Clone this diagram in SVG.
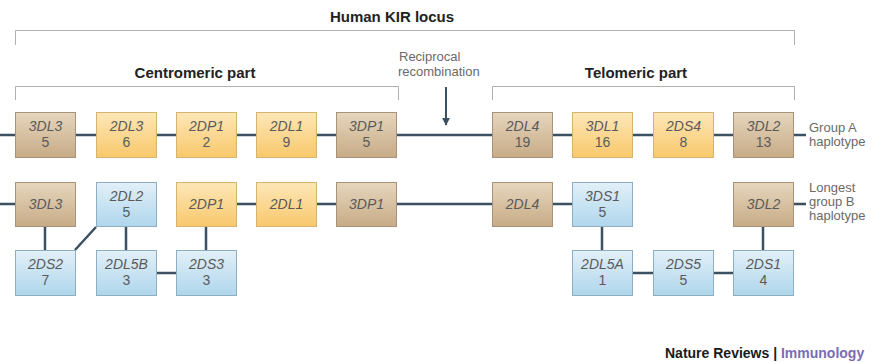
<svg xmlns="http://www.w3.org/2000/svg" width="874" height="363" viewBox="0 0 874 363">
<defs>
<linearGradient id="gTan" x1="0" y1="0" x2="0" y2="1"><stop offset="0" stop-color="#e6d6bd"/><stop offset="1" stop-color="#c7ab86"/></linearGradient>
<linearGradient id="gYel" x1="0" y1="0" x2="0" y2="1"><stop offset="0" stop-color="#fde7b8"/><stop offset="1" stop-color="#f8c86c"/></linearGradient>
<linearGradient id="gBlu" x1="0" y1="0" x2="0" y2="1"><stop offset="0" stop-color="#e2f0f8"/><stop offset="1" stop-color="#afd6ec"/></linearGradient>
<marker id="ah" viewBox="0 0 10 10" refX="9" refY="5" markerWidth="4" markerHeight="4" orient="auto"><path d="M0,0 L10,5 L0,10 z" fill="#3b5060"/></marker>
</defs>
<style>
.tan{fill:url(#gTan);stroke:#a8927a;stroke-width:1}
.yel{fill:url(#gYel);stroke:#d6b36e;stroke-width:1}
.blu{fill:url(#gBlu);stroke:#8eaec2;stroke-width:1}
.nm{font-family:"Liberation Sans",Arial,sans-serif;font-size:14px;font-style:italic;fill:#5a5a5a;text-anchor:middle}
.nu{font-family:"Liberation Sans",Arial,sans-serif;font-size:14px;fill:#5a5a5a;text-anchor:middle}
.ttl{font-family:"Liberation Sans",Arial,sans-serif;font-size:15px;font-weight:bold;fill:#222;text-anchor:middle}
.lbl{font-family:"Liberation Sans",Arial,sans-serif;font-size:13px;fill:#6a6a6a}
.br{fill:none;stroke:#b0b0b0;stroke-width:1}
.cn{fill:none;stroke:#3b5060;stroke-width:2.5}
</style>
<rect width="874" height="363" fill="#fff"/>
<g id="brackets">
<path class="br" d="M15.5,45 V30.5 H794.5 V45"/>
<path class="br" d="M15.5,100 V86.5 H398.5 V100"/>
<path class="br" d="M492.5,100 V86.5 H794.5 V100"/>
</g>
<g id="titles">
<text class="ttl" x="392" y="22">Human KIR locus</text>
<text class="ttl" x="195" y="78">Centromeric part</text>
<text class="ttl" x="636" y="78">Telomeric part</text>
<text class="lbl" x="399" y="61" font-size="14px">Reciprocal</text>
<text class="lbl" x="398" y="76" font-size="14px">recombination</text>
<text class="lbl" x="809" y="132">Group A</text>
<text class="lbl" x="809" y="146">haplotype</text>
<text class="lbl" x="809" y="192">Longest</text>
<text class="lbl" x="809" y="206">group B</text>
<text class="lbl" x="809" y="220">haplotype</text>
<text x="665" y="358" font-family="'Liberation Sans',Arial,sans-serif" font-size="14px" font-weight="bold" fill="#1a1a1a">Nature Reviews <tspan fill="#222">|</tspan> <tspan fill="#7a6bb5">Immunology</tspan></text>
</g>
<g id="connectors">
<path class="cn" d="M0,135 H15 M75,135 H96 M156,135 H176 M236,135 H256 M316,135 H336 M396,135 H492 M552,135 H572 M633,135 H653 M713,135 H733 M794,135 H806"/>
<path class="cn" d="M0,204 H15 M236,204 H256 M316,204 H336 M396,204 H492 M552,204 H572 M794,204 H806"/>
<path class="cn" d="M45,227 V250 M75,250 L96,227 M126,227 V250 M206,227 V250 M156,273 H176 M602,227 V250 M632,273 H653 M713,273 H733 M763,227 V250"/>
<path d="M446,87 V125" fill="none" stroke="#3b5060" stroke-width="2" marker-end="url(#ah)"/>
</g>
<g id="rowA">
<g id="a-3DL3"><rect class="tan" x="15.5" y="112.5" width="60" height="45"/><text class="nm" x="45.5" y="131">3DL3</text><text class="nu" x="45.5" y="147">5</text></g>
<g id="a-2DL3"><rect class="yel" x="96.5" y="112.5" width="60" height="45"/><text class="nm" x="126.5" y="131">2DL3</text><text class="nu" x="126.5" y="147">6</text></g>
<g id="a-2DP1"><rect class="yel" x="176.5" y="112.5" width="60" height="45"/><text class="nm" x="206.5" y="131">2DP1</text><text class="nu" x="206.5" y="147">2</text></g>
<g id="a-2DL1"><rect class="yel" x="256.5" y="112.5" width="60" height="45"/><text class="nm" x="286.5" y="131">2DL1</text><text class="nu" x="286.5" y="147">9</text></g>
<g id="a-3DP1"><rect class="tan" x="336.5" y="112.5" width="60" height="45"/><text class="nm" x="366.5" y="131">3DP1</text><text class="nu" x="366.5" y="147">5</text></g>
<g id="a-2DL4"><rect class="tan" x="492.5" y="112.5" width="60" height="45"/><text class="nm" x="522.5" y="131">2DL4</text><text class="nu" x="522.5" y="147">19</text></g>
<g id="a-3DL1"><rect class="yel" x="572.5" y="112.5" width="60" height="45"/><text class="nm" x="602.5" y="131">3DL1</text><text class="nu" x="602.5" y="147">16</text></g>
<g id="a-2DS4"><rect class="yel" x="653.5" y="112.5" width="60" height="45"/><text class="nm" x="683.5" y="131">2DS4</text><text class="nu" x="683.5" y="147">8</text></g>
<g id="a-3DL2"><rect class="tan" x="733.5" y="112.5" width="60" height="45"/><text class="nm" x="763.5" y="131">3DL2</text><text class="nu" x="763.5" y="147">13</text></g>
</g>
<g id="rowB">
<g id="b-3DL3"><rect class="tan" x="15.5" y="182.5" width="60" height="44"/><text class="nm" x="45.5" y="209">3DL3</text></g>
<g id="b-2DL2"><rect class="blu" x="96.5" y="182.5" width="60" height="44"/><text class="nm" x="126.5" y="201">2DL2</text><text class="nu" x="126.5" y="217">5</text></g>
<g id="b-2DP1"><rect class="yel" x="176.5" y="182.5" width="60" height="44"/><text class="nm" x="206.5" y="209">2DP1</text></g>
<g id="b-2DL1"><rect class="yel" x="256.5" y="182.5" width="60" height="44"/><text class="nm" x="286.5" y="209">2DL1</text></g>
<g id="b-3DP1"><rect class="tan" x="336.5" y="182.5" width="60" height="44"/><text class="nm" x="366.5" y="209">3DP1</text></g>
<g id="b-2DL4"><rect class="tan" x="492.5" y="182.5" width="60" height="44"/><text class="nm" x="522.5" y="209">2DL4</text></g>
<g id="b-3DS1"><rect class="blu" x="572.5" y="182.5" width="60" height="44"/><text class="nm" x="602.5" y="201">3DS1</text><text class="nu" x="602.5" y="217">5</text></g>
<g id="b-3DL2"><rect class="tan" x="733.5" y="182.5" width="60" height="44"/><text class="nm" x="763.5" y="209">3DL2</text></g>
<g id="b-2DS2"><rect class="blu" x="15.5" y="250.5" width="60" height="45"/><text class="nm" x="45.5" y="269">2DS2</text><text class="nu" x="45.5" y="285">7</text></g>
<g id="b-2DL5B"><rect class="blu" x="96.5" y="250.5" width="60" height="45"/><text class="nm" x="126.5" y="269">2DL5B</text><text class="nu" x="126.5" y="285">3</text></g>
<g id="b-2DS3"><rect class="blu" x="176.5" y="250.5" width="60" height="45"/><text class="nm" x="206.5" y="269">2DS3</text><text class="nu" x="206.5" y="285">3</text></g>
<g id="b-2DL5A"><rect class="blu" x="572.5" y="250.5" width="60" height="45"/><text class="nm" x="602.5" y="269">2DL5A</text><text class="nu" x="602.5" y="285">1</text></g>
<g id="b-2DS5"><rect class="blu" x="653.5" y="250.5" width="60" height="45"/><text class="nm" x="683.5" y="269">2DS5</text><text class="nu" x="683.5" y="285">5</text></g>
<g id="b-2DS1"><rect class="blu" x="733.5" y="250.5" width="60" height="45"/><text class="nm" x="763.5" y="269">2DS1</text><text class="nu" x="763.5" y="285">4</text></g>
</g>
</svg>
